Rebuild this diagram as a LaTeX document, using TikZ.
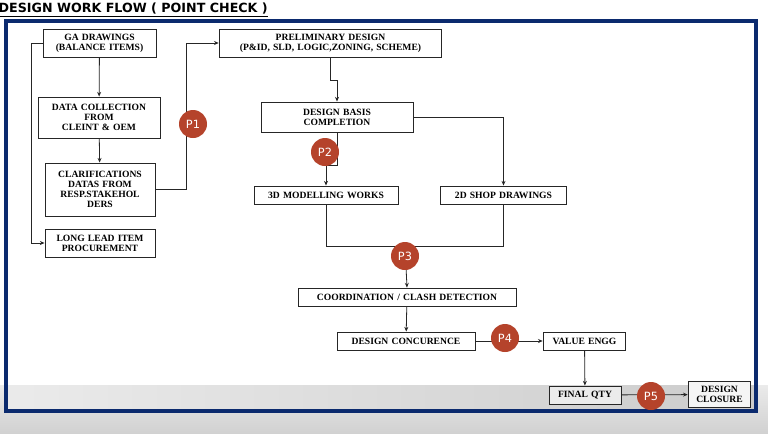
\documentclass[tikz,border=0pt]{standalone}
\usepackage{fontspec}
\setmainfont{Liberation Serif}
\setsansfont{DejaVu Sans}
\usetikzlibrary{arrows.meta}
\definecolor{frame}{HTML}{0B2A6E}
\definecolor{pin}{HTML}{B5432B}
\begin{document}
\begin{tikzpicture}[x=0.75pt,y=-0.75pt,
  box/.style={draw=black!85,line width=0.7pt,fill=white,align=center,inner sep=0pt,font=\bfseries\fontsize{7.2}{7.6}\selectfont},
  pt/.style={circle,fill=pin,text=white,minimum size=21pt,inner sep=0pt,font=\sffamily\fontsize{8.5}{9}\selectfont},
  ln/.style={line width=0.6pt,draw=black!85},
  ar/.style={ln,-{Stealth[length=3.5pt,width=3pt]}}]
\useasboundingbox (0,0) rectangle (768,433);
\fill[white] (0,0) rectangle (768,433);
\shade[top color=white!92!black,bottom color=white!82!black] (0,385) rectangle (768,433);
\fill[white] (7,22) rectangle (755,385);
\shade[left color=white!92!black,right color=white!80!black] (7,385) rectangle (755,410);
\draw[frame,line width=2.5pt] (6,21) rectangle (756,411);
\node[anchor=west,font=\sffamily\bfseries\fontsize{9.5}{10}\selectfont] (title) at (-6,10) {\underline{DESIGN WORK FLOW ( POINT CHECK )}};
% nodes
\node[box,text width=84.75pt,minimum height=21pt] (ga) at (99.5,43) {GA DRAWINGS\\(BALANCE ITEMS)};
\node[box,text width=91.5pt,minimum height=30.75pt] (dc) at (99,117.5) {DATA COLLECTION\\FROM\\CLEINT \& OEM};
\node[box,text width=82.5pt,minimum height=39.75pt] (cl) at (100,189.5) {CLARIFICATIONS\\DATAS FROM\\RESP.STAKEHOL\\DERS};
\node[box,text width=82.5pt,minimum height=21pt] (ll) at (100,243) {LONG LEAD ITEM\\PROCUREMENT};
\node[box,text width=167pt,minimum height=21pt] (pd) at (330.5,43) {PRELIMINARY DESIGN\\(P\&ID, SLD, LOGIC,ZONING, SCHEME)};
\node[box,text width=114pt,minimum height=22.5pt] (db) at (337,117) {DESIGN BASIS\\COMPLETION};
\node[box,text width=108pt,minimum height=13.5pt] (m3) at (326,195) {3D MODELLING WORKS};
\node[box,text width=95pt,minimum height=13.5pt] (m2) at (503.5,195) {2D SHOP DRAWINGS};
\node[box,text width=163.5pt,minimum height=13.5pt] (co) at (407,297) {COORDINATION / CLASH DETECTION};
\node[box,text width=103.5pt,minimum height=13.5pt] (dn) at (406,341) {DESIGN CONCURENCE};
\node[box,text width=62pt,minimum height=13.5pt] (ve) at (584.5,341) {VALUE ENGG};
\node[box,text width=54pt,minimum height=13.5pt,fill=white!92!black] (fq) at (585,395) {FINAL QTY};
\node[box,text width=47pt,minimum height=20pt,fill=white!96!black] (dcl) at (719.5,394.5) {DESIGN\\CLOSURE};
% connectors
\draw[ar] (ga) -- (dc);
\draw[ar] (dc) -- (cl);
\draw[ar] (ga.west) -- (31,43) -- (31,243) -- (ll.west);
\draw[ar] (cl.east) -- (186,189.5) -- (186,43) -- (pd.west);
\draw[ar] (pd.south) -- (330.5,80) -- (337,80) -- (db.north);
\draw[ar] (db.south) -- (337,165) -- (326,165) -- (m3.north);
\draw[ar] (db.east) -- (503.5,117) -- (m2.north);
\draw[ln] (m3.south) -- (326,246) -- (503.5,246) -- (m2.south);
\coordinate (j3) at (405,246);
\draw[ar] (j3) -- (co.north);
\draw[ar] (co) -- (dn);
\draw[ar] (dn) -- (ve);
\draw[ar] (ve) -- (fq);
\draw[ar] (fq) -- (dcl);
% points
\node[pt] (p1) at (193,124) {P1};
\node[pt] (p2) at (325,152) {P2};
\node[pt] (p3) at (405,256) {P3};
\node[pt] (p4) at (505,338) {P4};
\node[pt] (p5) at (651,396) {P5};
\end{tikzpicture}
\end{document}
